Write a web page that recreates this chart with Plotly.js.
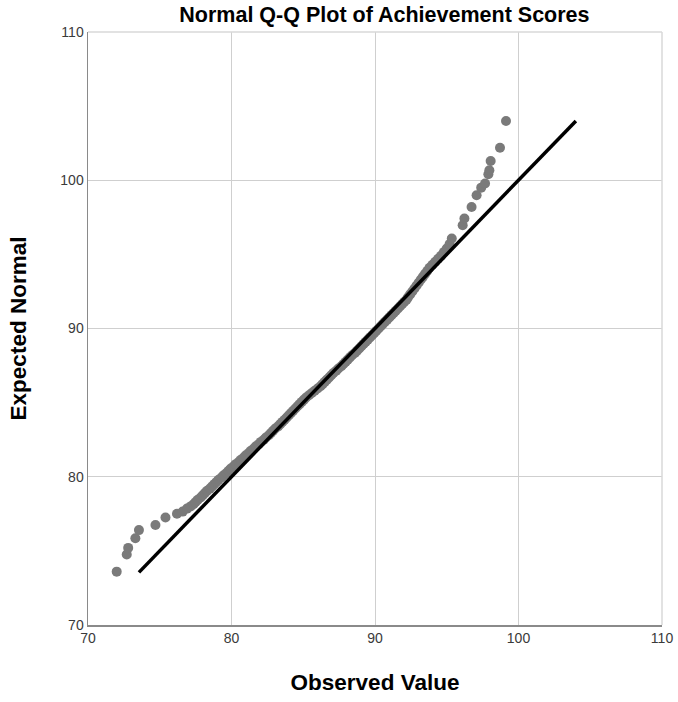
<!DOCTYPE html>
<html>
<head>
<meta charset="utf-8">
<script src="https://cdn.plot.ly/plotly-3.0.1.min.js"></script>
<style>html,body{margin:0;padding:0;background:#fff;}#chart{width:678px;height:702px;}</style>
</head>
<body>
<div id="chart"></div>
<script>
const observed = [
72.0,72.7,72.8,73.3,73.55,74.7,75.4,76.2,76.6,
76.9,77.15,77.35,77.5,77.65,77.85,78.0,78.15,78.3,78.5,78.65,78.8,78.95,79.1,79.3,79.45,
79.65,79.8,79.95,80.15,80.3,80.5,80.65,80.85,81.0,81.2,81.35,81.55,81.7,81.9,82.05,82.25,
82.4,82.6,82.75,82.9,83.05,83.25,83.4,83.55,83.7,83.85,
84.0,84.15,84.3,84.45,84.6,84.75,84.9,85.05,85.2,85.4,85.6,85.8,86.0,86.2,86.35,86.5,86.65,
86.8,86.95,87.1,87.3,87.45,87.65,87.8,87.95,88.1,88.25,88.4,88.6,88.75,88.9,89.05,89.2,
89.35,89.5,89.65,89.8,89.95,90.1,90.25,90.4,90.55,90.7,90.85,91.0,91.15,91.3,91.45,91.6,
91.75,91.9,92.05,92.2,92.3,92.45,92.6,92.75,92.9,93.05,93.2,93.35,93.5,93.65,93.8,94.0,
94.2,94.4,94.6,94.8,95.0,95.2,95.35,
96.11,96.23,96.73,97.08,97.4,97.67,97.9,97.97,98.06,98.71,99.13
];
const expected = [
73.6,74.75,75.2,75.85,76.4,76.75,77.25,77.5,77.65,
77.85,78.0,78.15,78.3,78.45,78.6,78.75,78.9,79.05,79.2,79.35,79.5,79.65,79.8,79.95,80.1,
80.25,80.4,80.55,80.7,80.85,81.0,81.15,81.3,81.45,81.6,81.75,81.9,82.05,82.2,82.35,82.5,
82.65,82.8,82.95,83.1,83.25,83.4,83.55,83.7,83.85,84.0,
84.15,84.3,84.45,84.6,84.75,84.9,85.05,85.2,85.35,85.5,85.65,85.8,85.95,86.1,86.25,86.4,86.55,
86.7,86.85,87.0,87.15,87.3,87.45,87.6,87.75,87.9,88.05,88.2,88.35,88.5,88.65,88.8,88.95,
89.1,89.25,89.4,89.55,89.7,89.85,90.0,90.15,90.3,90.45,90.6,90.75,90.9,91.05,91.2,91.35,
91.5,91.65,91.8,91.95,92.1,92.3,92.5,92.7,92.9,93.1,93.3,93.5,93.7,93.9,94.1,94.3,
94.5,94.7,94.9,95.15,95.4,95.7,96.07,
96.97,97.42,98.2,98.99,99.5,99.78,100.41,100.68,101.3,102.19,104.0
];
// Reference line (y = x) endpoints
const refLineX = [73.55, 104.0];
const refLineY = [73.55, 104.0];
const ticks = [70, 80, 90, 100, 110];

const font = 'Liberation Sans, Arial, sans-serif';
const traces = [
  {x: observed, y: expected, type: 'scatter', mode: 'markers',
   marker: {color: '#7a7a7a', size: 10, line: {width: 0}}, hoverinfo: 'x+y'},
  {x: refLineX, y: refLineY, type: 'scatter', mode: 'lines',
   line: {color: '#000000', width: 3.5}, hoverinfo: 'skip'}
];
const axisCommon = {
  range: [70, 110], tickvals: ticks, ticktext: ticks.map(String),
  showgrid: true, gridcolor: '#cfcfcf', gridwidth: 1,
  showline: true, linecolor: '#8a8a8a', linewidth: 1.5,
  zeroline: false, ticks: '', tickfont: {family: font, size: 14, color: '#3a3a3a'}
};
const layout = {
  width: 678, height: 702,
  margin: {l: 88, r: 16, t: 32, b: 77},
  paper_bgcolor: '#ffffff', plot_bgcolor: '#ffffff',
  showlegend: false,
  title: {text: '<b>Normal Q-Q Plot of Achievement Scores</b>', x: 0.567, xanchor: 'center',
          y: 0.979, yanchor: 'middle', font: {family: font, size: 21.5, color: '#000'}},
  xaxis: Object.assign({}, axisCommon, {
    title: {text: '<b>Observed Value</b>', font: {family: font, size: 22.5, color: '#000'}, standoff: 29}
  }),
  yaxis: Object.assign({}, axisCommon, {
    title: {text: '<b>Expected Normal</b>', font: {family: font, size: 22.5, color: '#000'}, standoff: 27}
  }),
  shapes: [
    {type: 'line', xref: 'paper', yref: 'paper', x0: 0, x1: 1, y0: 1, y1: 1, line: {color: '#d8d8d8', width: 1.5}},
    {type: 'line', xref: 'paper', yref: 'paper', x0: 1, x1: 1, y0: 0, y1: 1, line: {color: '#d8d8d8', width: 1.5}}
  ]
};
Plotly.newPlot('chart', traces, layout, {displayModeBar: false, staticPlot: true});
</script>
</body>
</html>
